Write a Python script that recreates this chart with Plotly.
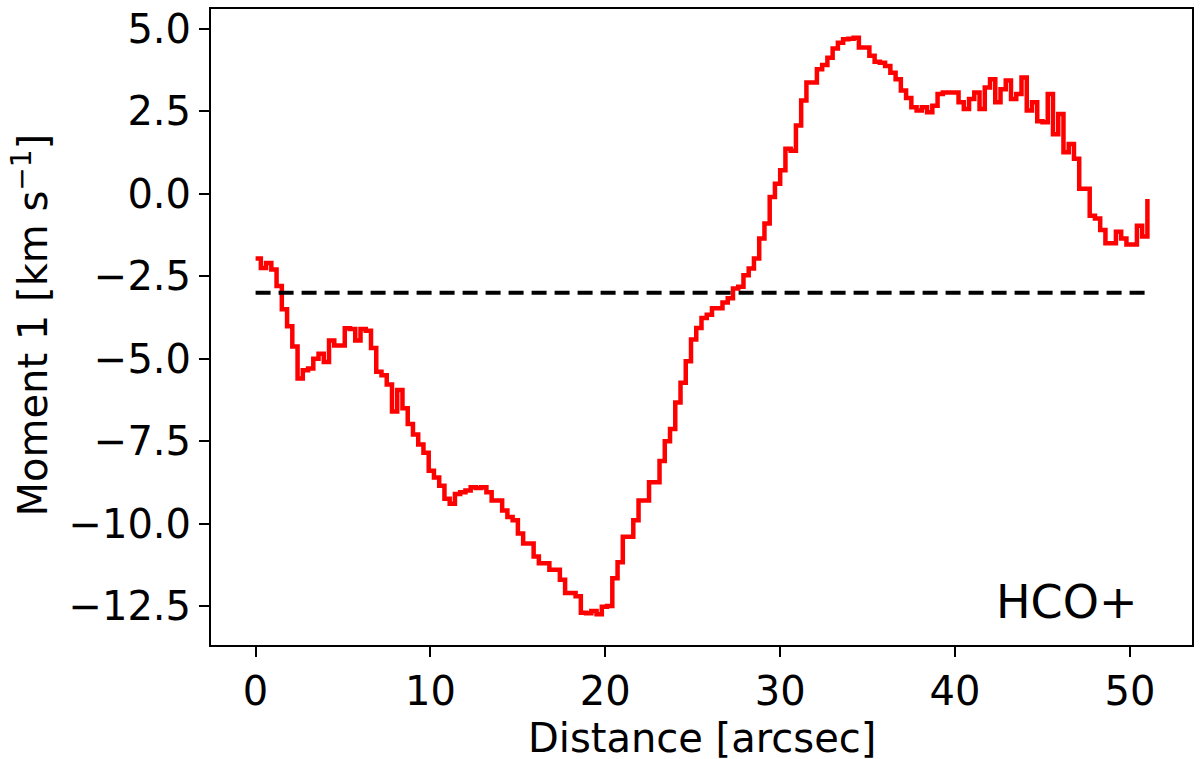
import numpy as np
import plotly.graph_objects as go

# Sampling step along the cut (arcsec)
step = 0.3
moment1 = [
    -1.96, -2.25, -2.10, -2.30, -2.80, -3.50, -4.02, -4.63, -5.60, -5.35,
    -5.30, -5.00, -4.85, -5.10, -4.45, -4.60, -4.60, -4.08, -4.10, -4.45,
    -4.10, -4.15, -4.68, -5.40, -5.50, -5.78, -6.60, -5.95, -6.50, -6.98,
    -7.30, -7.60, -7.85, -8.40, -8.60, -8.85, -9.25, -9.40, -9.10, -9.05,
    -9.00, -8.90, -8.92, -8.90, -9.05, -9.30, -9.30, -9.60, -9.80, -9.90,
    -10.30, -10.60, -10.60, -11.00, -11.20, -11.20, -11.40, -11.40, -11.70, -12.10,
    -12.10, -12.20, -12.70, -12.72, -12.65, -12.75, -12.52, -12.50, -11.66, -11.17,
    -10.40, -10.40, -9.90, -9.30, -9.30, -8.75, -8.75, -8.10, -7.50, -7.13,
    -6.33, -5.73, -5.08, -4.42, -4.07, -3.77, -3.67, -3.47, -3.47, -3.30,
    -3.17, -2.87, -2.82, -2.47, -2.27, -1.96, -1.36, -0.90, -0.10, 0.30,
    0.71, 1.36, 1.30, 2.07, 2.83, 3.37, 3.37, 3.77, 3.90, 4.12,
    4.40, 4.58, 4.68, 4.70, 4.73, 4.43, 4.43, 4.18, 4.00, 3.97,
    3.87, 3.67, 3.47, 3.13, 2.90, 2.62, 2.52, 2.62, 2.47, 2.67,
    3.02, 3.07, 3.07, 3.07, 2.77, 2.57, 2.87, 3.07, 2.57, 3.22,
    3.47, 2.77, 3.17, 3.43, 2.87, 3.02, 3.52, 2.52, 2.77, 2.20,
    2.17, 3.02, 1.80, 2.42, 1.26, 1.51, 1.06, 0.15, 0.15, -0.67,
    -0.75, -1.10, -1.50, -1.50, -1.15, -1.36, -1.54, -1.54, -0.97, -1.30,
    -0.16,
]
distance = [round(i * step, 2) for i in range(len(moment1))]

ref_velocity = -3.0
ref_x = [0.0, 51.0]

x_ticks = [0, 10, 20, 30, 40, 50]
y_ticks = [-12.5, -10.0, -7.5, -5.0, -2.5, 0.0, 2.5, 5.0]
y_tick_text = [("\u2212" if v < 0 else "") + f"{abs(v):.1f}" for v in y_ticks]

FONT = "DejaVu Sans"

fig = go.Figure()
fig.add_trace(go.Scatter(
    x=distance, y=moment1, mode="lines",
    line=dict(color="#ff0000", width=4.5, shape="hv"),
    showlegend=False,
))
fig.add_trace(go.Scatter(
    x=ref_x, y=[ref_velocity, ref_velocity], mode="lines",
    line=dict(color="black", width=4, dash="15px,8px"),
    showlegend=False,
))

axis_common = dict(
    showline=True, linecolor="black", linewidth=2, mirror=True,
    showgrid=False, zeroline=False,
    ticks="outside", ticklen=10, tickwidth=2, tickcolor="black",
    tickfont=dict(family=FONT, size=40, color="black"),
)

fig.update_xaxes(range=[-2.55, 53.55], tickvals=x_ticks,
                 ticktext=[str(v) for v in x_ticks], **axis_common)
fig.update_yaxes(range=[-13.68, 5.60], tickvals=y_ticks,
                 ticktext=y_tick_text, **axis_common)

fig.add_annotation(text="Distance [arcsec]", xref="paper", yref="paper",
                   x=0.5, y=-0.147, xanchor="center", yanchor="middle",
                   showarrow=False, font=dict(family=FONT, size=40, color="black"))
fig.add_annotation(text="Moment 1 [km s<sup>\u22121</sup>]", xref="paper", yref="paper",
                   x=-0.1835, y=0.504, xanchor="center", yanchor="middle",
                   textangle=-90, showarrow=False,
                   font=dict(family=FONT, size=40, color="black"))
fig.add_annotation(text="HCO+", xref="x", yref="y", x=46.4, y=-12.38,
                   xanchor="center", yanchor="middle", showarrow=False,
                   font=dict(family=FONT, size=46, color="black"))

fig.update_layout(
    width=1200, height=759,
    margin=dict(l=211, r=8, t=6, b=114),
    plot_bgcolor="white", paper_bgcolor="white",
    font=dict(family=FONT, color="black"),
)

fig.write_html(
    "out.html",
    config={"displayModeBar": False},
    post_script="document.body.style.margin='0';document.body.style.padding='0';document.body.style.overflow='hidden';",
)
